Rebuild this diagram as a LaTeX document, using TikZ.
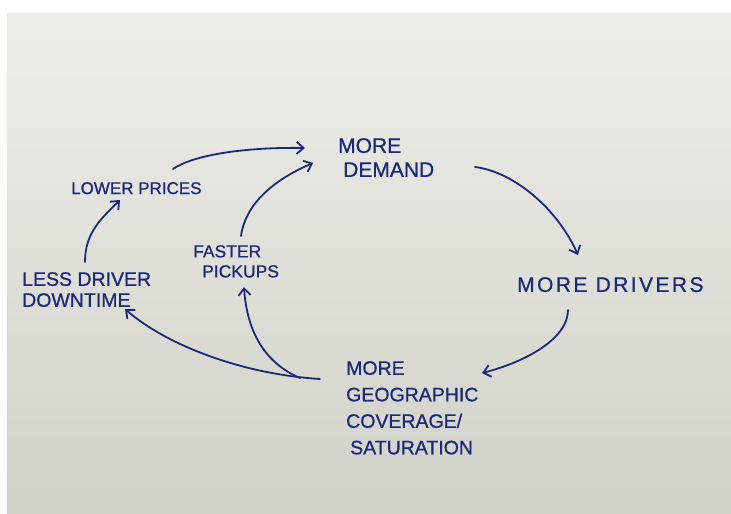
\documentclass[tikz,border=0pt]{standalone}
\usepackage{fontspec}
\newfontfamily\handfont{Liberation Sans}[FakeBold=0.8]
\newfontfamily\handwide{Liberation Sans}[FakeBold=0.8, LetterSpace=11.5]
\usetikzlibrary{arrows.meta}
\definecolor{ink}{RGB}{30, 40, 122}
\definecolor{papertop}{RGB}{237, 238, 232}
\definecolor{papermid}{RGB}{227, 228, 221}
\definecolor{paperbot}{RGB}{208, 210, 201}

\begin{document}
\begin{tikzpicture}[x=1pt, y=-1pt, >={Straight Barb[length=7pt, width=12pt]},
    idea/.style={text=ink, inner sep=0pt, anchor=north west, align=left},
    fs/.style 2 args={font=\handfont\fontsize{#1}{#2}\selectfont},
    flow/.style={->, ink, line width=1.8pt, line cap=round}]
    \useasboundingbox (0,0) rectangle (731,514);
    \fill[white] (0,0) rectangle (731,514);
    \shade[top color=papertop, middle color=papermid, bottom color=paperbot] (7,13) rectangle (731,514);

    % Ideas in the loop
    \node[idea, fs={21}{24}] (demand) at (338,138) {MORE\\\hspace*{5pt}DEMAND};
    \node[idea, font=\handwide\fontsize{21}{24}\selectfont] (drivers) at (517,277) {MORE DRIVERS};
    \node[idea, fs={19.5}{26.5}] (geo) at (346,361) {MORE\\GEOGRAPHIC\\COVERAGE/\\\hspace*{4pt}SATURATION};
    \node[idea, fs={17.5}{20}] (faster) at (193,245) {FASTER\\\hspace*{9pt}PICKUPS};
    \node[idea, fs={19.5}{21}] (less) at (22,272) {LESS DRIVER\\DOWNTIME};
    \node[idea, fs={17}{20}] (lower) at (71,182) {LOWER PRICES};

    % Main loop
    \draw[flow] ([shift={(137,29)}]demand.north west) .. controls +(40,5) and +(-20,-45) .. ([shift={(61,-22)}]drivers.north west);
    \draw[flow] ([shift={(51,33)}]drivers.north west) .. controls +(0,30) and +(40,-10) .. ([shift={(136,12)}]geo.north west);

    % Side effects of coverage
    \draw[flow] ([shift={(-26,18)}]geo.north west) .. controls +(-80,-5) and +(40,35) .. ([shift={(103,37)}]less.north west);
    \draw[flow] ([shift={(-46,17)}]geo.north west) .. controls +(-35,-15) and +(3,45) .. ([shift={(51,42)}]faster.north west);
    \draw[flow] ([shift={(63,-10)}]less.north west) .. controls +(0,-30) and +(-18,18) .. ([shift={(49,18)}]lower.north west);

    % Back to demand
    \draw[flow] ([shift={(102,-13)}]lower.north west) .. controls +(20,-14) and +(-60,-1) .. ([shift={(-33,10)}]demand.north west);
    \draw[flow] ([shift={(48,-9)}]faster.north west) .. controls +(5,-35) and +(-35,15) .. ([shift={(-25,25)}]demand.north west);
\end{tikzpicture}
\end{document}
